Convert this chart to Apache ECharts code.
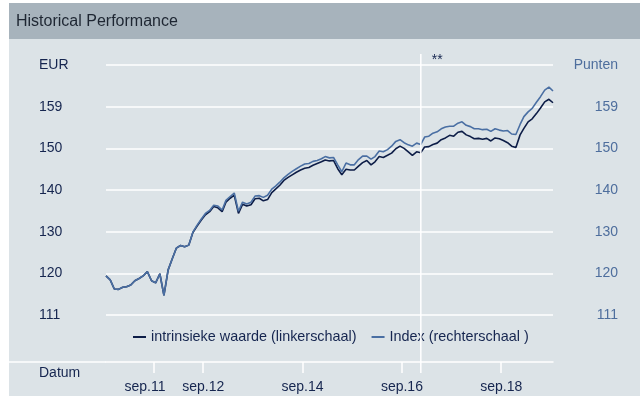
<!DOCTYPE html>
<html>
<head>
<meta charset="utf-8">
<script src="https://cdn.jsdelivr.net/npm/echarts@6/dist/echarts.min.js"></script>
<style>
  html, body { margin: 0; padding: 0; background: #ffffff; }
  #wrap { position: relative; width: 640px; height: 396px; overflow: hidden; }
  #panel { position: absolute; left: 9px; top: 3px; right: 0; bottom: 0; background: #dce3e7; }
  #bar { position: absolute; left: 9px; top: 3px; right: 0; height: 36px; background: #a7b3bc; }
  #chart { position: absolute; left: 0; top: 0; width: 640px; height: 396px; }
</style>
</head>
<body>
<div id="wrap">
  <div id="panel"></div>
  <div id="bar"></div>
  <div id="chart"></div>
</div>
<script>
// Monthly observation dates
const months = [
  '2010-10', '2010-11', '2010-12',
  '2011-01', '2011-02', '2011-03', '2011-04', '2011-05', '2011-06', '2011-07', '2011-08', '2011-09', '2011-10', '2011-11', '2011-12',
  '2012-01', '2012-02', '2012-03', '2012-04', '2012-05', '2012-06', '2012-07', '2012-08', '2012-09', '2012-10', '2012-11', '2012-12',
  '2013-01', '2013-02', '2013-03', '2013-04', '2013-05', '2013-06', '2013-07', '2013-08', '2013-09', '2013-10', '2013-11', '2013-12',
  '2014-01', '2014-02', '2014-03', '2014-04', '2014-05', '2014-06', '2014-07', '2014-08', '2014-09', '2014-10', '2014-11', '2014-12',
  '2015-01', '2015-02', '2015-03', '2015-04', '2015-05', '2015-06', '2015-07', '2015-08', '2015-09', '2015-10', '2015-11', '2015-12',
  '2016-01', '2016-02', '2016-03', '2016-04', '2016-05', '2016-06', '2016-07', '2016-08', '2016-09', '2016-10', '2016-11', '2016-12',
  '2017-01', '2017-02', '2017-03', '2017-04', '2017-05', '2017-06', '2017-07', '2017-08', '2017-09', '2017-10', '2017-11', '2017-12',
  '2018-01', '2018-02', '2018-03', '2018-04', '2018-05', '2018-06', '2018-07', '2018-08', '2018-09', '2018-10', '2018-11', '2018-12',
  '2019-01', '2019-02', '2019-03', '2019-04', '2019-05', '2019-06', '2019-07', '2019-08', '2019-09', '2019-10'
];

// Intrinsic value (EUR, left scale)
const intrinsicValue = [
  120.0, 119.1, 117.0,
  116.9, 117.4, 117.5, 117.9, 118.9, 119.4, 120.0, 121.0, 118.9, 118.4, 120.5, 115.5,
  121.4, 124.0, 126.4, 127.0, 126.7, 127.1, 130.0, 131.5, 132.9, 134.1, 134.8, 136.0,
  135.7, 134.8, 137.0, 137.9, 138.6, 134.4, 136.5, 136.1, 136.4, 137.8, 137.9, 137.3,
  137.6, 139.2, 140.0, 140.9, 142.0, 142.7, 143.3, 143.9, 144.4, 144.8, 145.0, 145.5,
  145.9, 146.3, 146.7, 146.5, 146.6, 144.7, 143.3, 144.6, 144.4, 144.4, 145.3, 146.1,
  146.6, 145.6, 146.3, 147.5, 147.3, 147.8, 148.3, 149.3, 149.9, 149.4, 148.6, 147.8,
  148.6, 148.4, 149.7, 149.8, 150.3, 150.6, 151.4, 151.8, 152.4, 152.2, 153.1, 153.3,
  152.5, 152.1, 151.6, 151.7, 151.5, 151.7, 151.1, 151.8, 151.6, 151.2, 150.7, 149.9,
  149.6, 152.5, 154.0, 155.5, 156.2, 157.4, 158.7, 160.1, 160.7, 159.9
];

// Index (points, right scale)
const indexValue = [
  120.0, 119.1, 117.0,
  116.9, 117.4, 117.5, 117.9, 118.9, 119.4, 120.0, 121.0, 118.9, 118.4, 120.5, 115.5,
  121.4, 124.0, 126.4, 127.0, 126.7, 127.1, 130.1, 131.7, 133.1, 134.4, 135.1, 136.3,
  136.1, 135.2, 137.4, 138.3, 139.1, 134.9, 137.0, 136.6, 137.0, 138.4, 138.5, 138.1,
  138.6, 140.0, 140.7, 141.6, 142.6, 143.4, 144.1, 144.7, 145.3, 145.8, 145.9, 146.4,
  146.6, 147.0, 147.5, 147.2, 147.3, 145.6, 144.0, 146.0, 145.6, 145.6, 146.8, 147.6,
  147.6, 146.9, 147.5, 148.8, 148.6, 149.1, 149.9, 151.0, 151.4, 150.7, 150.2, 149.9,
  150.6, 150.3, 152.0, 152.2, 152.9, 153.2, 153.9, 154.3, 154.5, 154.5, 155.2, 155.5,
  154.7, 154.4, 153.9, 153.9, 153.7, 153.8, 153.3, 153.9, 153.6, 153.4, 153.5, 152.7,
  152.6, 154.9, 156.7, 157.8, 158.6, 160.0, 161.3, 162.8, 163.5, 162.6
];

// Value-axis gridlines and their printed labels
const yTickValues = [111, 120.6, 130.2, 139.8, 149.4, 159, 168.6];
const leftTickLabels = ['111', '120', '130', '140', '150', '159', 'EUR'];
const rightTickLabels = ['111', '120', '130', '140', '150', '159', 'Punten'];

// Date-axis ticks
const xTickDates = ['2011-09-15', '2012-09-15', '2014-09-15', '2016-09-15', '2018-09-15'];
const xTickLabels = ['sep.11', 'sep.12', 'sep.14', 'sep.16', 'sep.18'];

const axisStart = '2010-10-01';
const axisEnd = '2019-10-01';
const markerDate = '2017-02-01';
const markerLabel = '**';

const seriesNames = ['intrinsieke waarde (linkerschaal)', 'Index (rechterschaal )'];

const FONT = '"Liberation Sans", Arial, Helvetica, sans-serif';
const NAVY = '#15254f';
const LINE_NAVY = '#0d1d47';
const LINE_BLUE = '#4a6fa3';
const RIGHT_LABEL = '#4e6e9d';
const WHITE = '#ffffff';

function toTime(s) {
  const p = s.split('-').map(Number);
  return new Date(p[0], p[1] - 1, p[2] || 1).getTime();
}

function nearestLabel(values, labels, v) {
  let best = 0;
  for (let i = 1; i < values.length; i++) {
    if (Math.abs(values[i] - v) < Math.abs(values[best] - v)) best = i;
  }
  return labels[best];
}

const xTickTimes = xTickDates.map(toTime);
const intrinsicData = months.map((m, i) => [toTime(m), intrinsicValue[i]]);
const indexData = months.map((m, i) => [toTime(m), indexValue[i]]);

const chart = echarts.init(document.getElementById('chart'), null, { renderer: 'canvas' });

const yAxisBase = {
  type: 'value',
  min: yTickValues[0],
  max: yTickValues[yTickValues.length - 1],
  axisLine: { show: false },
  axisTick: { show: false, customValues: yTickValues }
};

chart.setOption({
  animation: false,
  backgroundColor: 'transparent',
  textStyle: { fontFamily: FONT },
  title: {
    text: 'Historical Performance',
    left: 11,
    top: 9,
    textStyle: { fontSize: 16, fontWeight: 'normal', color: '#1e2632', fontFamily: FONT }
  },
  legend: {
    left: 128,
    top: 325,
    icon: 'rect',
    itemWidth: 13,
    itemHeight: 2,
    itemGap: 15,
    data: seriesNames,
    textStyle: { fontSize: 14.4, color: NAVY, fontFamily: FONT }
  },
  grid: { left: 106, right: 87, top: 65, bottom: 81, containLabel: false },
  xAxis: {
    type: 'value',
    min: toTime(axisStart),
    max: toTime(axisEnd),
    offset: 47,
    axisLine: { show: true, lineStyle: { color: WHITE, width: 1.5 } },
    axisTick: { show: true, customValues: xTickTimes, length: 11, lineStyle: { color: WHITE, width: 1.5 } },
    splitLine: { show: false },
    axisLabel: {
      customValues: xTickTimes,
      margin: 18,
      formatter: function (v) {
        const lab = nearestLabel(xTickTimes, xTickLabels, v);
        return lab === xTickLabels[0] ? '{first|' + lab + '}' : '{n|' + lab + '}';
      },
      rich: {
        first: { fontSize: 14, color: NAVY, fontFamily: FONT, padding: [0, 17, 0, 0] },
        n: { fontSize: 14, color: NAVY, fontFamily: FONT }
      }
    }
  },
  yAxis: [
    Object.assign({}, yAxisBase, {
      position: 'left',
      splitLine: { show: true, lineStyle: { color: WHITE, width: 1.5 } },
      axisLabel: {
        customValues: yTickValues,
        align: 'left',
        margin: 67,
        fontSize: 14,
        color: NAVY,
        fontFamily: FONT,
        formatter: v => nearestLabel(yTickValues, leftTickLabels, v)
      }
    }),
    Object.assign({}, yAxisBase, {
      position: 'right',
      splitLine: { show: false },
      axisLabel: {
        customValues: yTickValues,
        align: 'right',
        margin: 65,
        fontSize: 14,
        color: RIGHT_LABEL,
        fontFamily: FONT,
        formatter: v => nearestLabel(yTickValues, rightTickLabels, v)
      }
    })
  ],
  series: [
    {
      name: seriesNames[0],
      type: 'line',
      yAxisIndex: 0,
      data: intrinsicData,
      showSymbol: false,
      color: LINE_NAVY,
      lineStyle: { color: LINE_NAVY, width: 1.6 },
      emphasis: { disabled: true }
    },
    {
      name: seriesNames[1],
      type: 'line',
      yAxisIndex: 1,
      data: indexData,
      showSymbol: false,
      color: LINE_BLUE,
      lineStyle: { color: LINE_BLUE, width: 1.6 },
      emphasis: { disabled: true }
    }
  ]
});

// Marker line, axis-line extension and the date caption, placed from the axis scales
const mx = chart.convertToPixel({ xAxisIndex: 0 }, toTime(markerDate));
const yBase = chart.convertToPixel({ yAxisIndex: 0 }, yTickValues[0]);
const gridLeft = chart.convertToPixel({ xAxisIndex: 0 }, toTime(axisStart));
const axisY = yBase + 47;

chart.setOption({
  graphic: {
    elements: [
      {
        type: 'line', silent: true,
        shape: { x1: 9, y1: axisY, x2: gridLeft, y2: axisY },
        style: { stroke: WHITE, lineWidth: 1.5 }
      },
      {
        type: 'line', silent: true, z: 10,
        shape: { x1: mx, y1: 54, x2: mx, y2: axisY + 11 },
        style: { stroke: WHITE, lineWidth: 1.5 }
      },
      {
        type: 'text', silent: true, z: 10,
        x: mx + 11, y: 60,
        style: { text: markerLabel, fill: NAVY, font: '14px ' + FONT, verticalAlign: 'middle', align: 'left' }
      },
      {
        type: 'text', silent: true,
        x: 39, y: axisY + 11,
        style: { text: 'Datum', fill: NAVY, font: '14px ' + FONT, verticalAlign: 'middle', align: 'left' }
      }
    ]
  }
});
</script>
</body>
</html>
